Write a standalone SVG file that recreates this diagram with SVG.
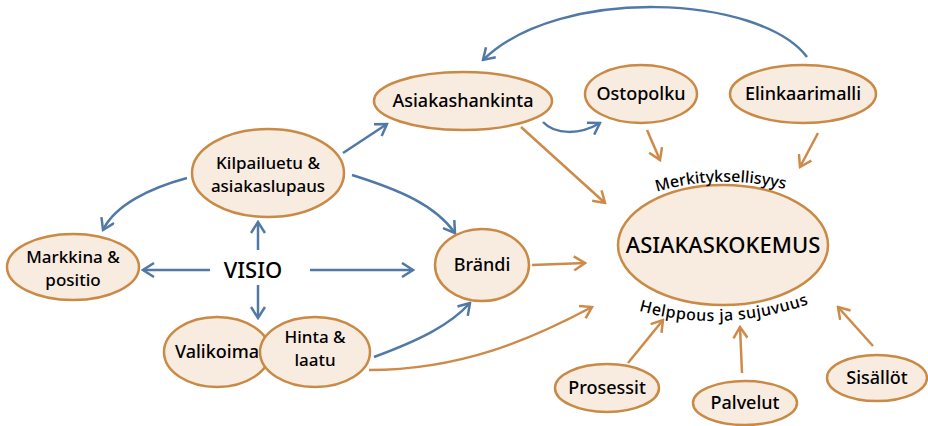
<svg xmlns="http://www.w3.org/2000/svg" width="928" height="426" viewBox="0 0 928 426">
<defs>
<style>
.n{fill:#f8ebe0;stroke:#c98a45;stroke-width:2.5}
.t{font-family:"Noto Sans","Open Sans",sans-serif;font-size:18px;font-weight:500;fill:#000;text-anchor:middle}
.s{font-size:17px}
.b{fill:none;stroke:#5079a5;stroke-width:2.5}
.o{fill:none;stroke:#cd8a48;stroke-width:2.5}
</style>
<marker id="ab" viewBox="0 0 14 16" refX="12" refY="8" markerWidth="14" markerHeight="16" markerUnits="userSpaceOnUse" orient="auto"><path d="M1,1 L12,8 L1,15" fill="none" stroke="#5079a5" stroke-width="2.5"/></marker>
<marker id="ao" viewBox="0 0 14 16" refX="12" refY="8" markerWidth="14" markerHeight="16" markerUnits="userSpaceOnUse" orient="auto"><path d="M1,1 L12,8 L1,15" fill="none" stroke="#cd8a48" stroke-width="2.5"/></marker>
<path id="arcTop" d="M650,194 Q720,171 792,191"/>
<path id="arcBot" d="M636,310 Q722,335 812,303"/>
</defs>
<g id="connectors">
<path class="b" marker-end="url(#ab)" d="M807,57 C760,-5 560,-15 483,60"/>
<path class="b" marker-end="url(#ab)" d="M543,122 C555,135 580,135 600,123"/>
<path class="b" marker-end="url(#ab)" d="M343,153 L387,124"/>
<path class="b" marker-end="url(#ab)" d="M352,175 C400,190 435,205 455,233"/>
<path class="b" marker-end="url(#ab)" d="M187,178 C150,188 115,205 103,230"/>
<path class="b" marker-end="url(#ab)" d="M210,270 L143,270"/>
<path class="b" marker-end="url(#ab)" d="M310,270 L413,270"/>
<path class="b" marker-end="url(#ab)" d="M258,250 L258,222"/>
<path class="b" marker-end="url(#ab)" d="M258,285 L258,318"/>
<path class="b" marker-end="url(#ab)" d="M374,357 C420,340 450,325 470,303"/>
<path class="o" marker-end="url(#ao)" d="M521,127 L605,203"/>
<path class="o" marker-end="url(#ao)" d="M647,130 L660,160"/>
<path class="o" marker-end="url(#ao)" d="M818,133 L800,167"/>
<path class="o" marker-end="url(#ao)" d="M532,265 L585,263"/>
<path class="o" marker-end="url(#ao)" d="M369,370 C460,370 530,340 592,307"/>
<path class="o" marker-end="url(#ao)" d="M628,363 L663,320"/>
<path class="o" marker-end="url(#ao)" d="M742,373 L740,327"/>
<path class="o" marker-end="url(#ao)" d="M873,346 L838,307"/>
</g>
<g id="asiakashankinta"><ellipse class="n" cx="463" cy="101" rx="89" ry="29"/><text class="t" x="463" y="107">Asiakashankinta</text></g>
<g id="ostopolku"><ellipse class="n" cx="641" cy="94" rx="56" ry="29"/><text class="t" x="641" y="100">Ostopolku</text></g>
<g id="elinkaarimalli"><ellipse class="n" cx="803" cy="94" rx="73" ry="29"/><text class="t" x="803" y="100">Elinkaarimalli</text></g>
<g id="kilpailuetu"><ellipse class="n" cx="268" cy="173" rx="76" ry="44"/><text class="t s" x="268" y="169">Kilpailuetu &amp;</text><text class="t s" x="268" y="192">asiakaslupaus</text></g>
<g id="markkina"><ellipse class="n" cx="73" cy="267" rx="66" ry="33"/><text class="t s" x="73" y="263">Markkina &amp;</text><text class="t s" x="73" y="286">positio</text></g>
<g id="visio"><text class="t" x="253" y="278" style="font-size:22px">VISIO</text></g>
<g id="brandi"><ellipse class="n" cx="482" cy="265" rx="47" ry="36"/><text class="t" x="482" y="271">Brändi</text></g>
<g id="asiakaskokemus"><ellipse class="n" cx="723" cy="245" rx="105" ry="60"/><text class="t" x="723" y="253" style="font-size:22px">ASIAKASKOKEMUS</text>
<text class="t" style="font-size:16px"><textPath href="#arcTop" startOffset="50%">Merkityksellisyys</textPath></text>
<text class="t" style="font-size:16px;letter-spacing:0.5px"><textPath href="#arcBot" startOffset="50%">Helppous ja sujuvuus</textPath></text></g>
<g id="valikoima"><ellipse class="n" cx="217" cy="352" rx="53" ry="35"/><text class="t" x="217" y="358">Valikoima</text></g>
<g id="hinta"><ellipse class="n" cx="315" cy="352" rx="55" ry="35"/><text class="t s" x="315" y="343">Hinta &amp;</text><text class="t s" x="315" y="366">laatu</text></g>
<g id="prosessit"><ellipse class="n" cx="607" cy="388" rx="52" ry="24"/><text class="t" x="607" y="394">Prosessit</text></g>
<g id="palvelut"><ellipse class="n" cx="745" cy="403" rx="52" ry="22"/><text class="t" x="745" y="409">Palvelut</text></g>
<g id="sisallot"><ellipse class="n" cx="877" cy="378" rx="50" ry="23"/><text class="t" x="877" y="384">Sisällöt</text></g>
</svg>
